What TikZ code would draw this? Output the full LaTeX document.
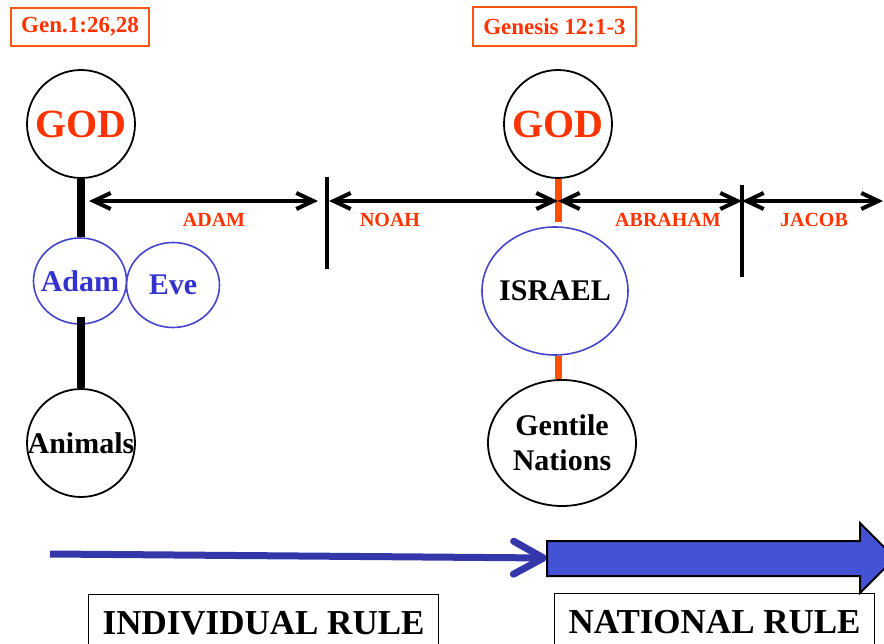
\documentclass[tikz,border=0pt]{standalone}
\usepackage{fontspec}
\setmainfont{Liberation Serif}
\usetikzlibrary{arrows.meta,shapes.geometric}

\definecolor{godred}{RGB}{255,51,0}
\definecolor{versered}{RGB}{255,85,17}
\definecolor{linered}{RGB}{255,80,0}
\definecolor{manblue}{RGB}{68,68,204}
\definecolor{nameblue}{RGB}{51,51,204}
\definecolor{lineblue}{RGB}{51,55,170}
\definecolor{blockblue}{RGB}{68,82,214}

\newcommand{\pxfont}[2]{\fontsize{#1pt}{#2pt}\selectfont}

\begin{document}
\begin{tikzpicture}[x=1pt, y=-1pt,
  verse/.style={draw=versered, line width=2pt, text=godred, inner sep=0pt,
    font=\pxfont{23}{27}\bfseries},
  divine/.style={circle, draw, line width=1.8pt, minimum size=108pt, inner sep=0pt,
    text=godred, font=\pxfont{40}{48}\bfseries},
  person/.style={ellipse, draw=manblue, line width=1.6pt, inner sep=0pt,
    text=nameblue, font=\pxfont{30}{35}\bfseries},
  people/.style={ellipse, draw, line width=1.8pt, inner sep=0pt, align=center,
    font=\pxfont{30}{35}\bfseries},
  era/.style={text=godred, inner sep=0pt, font=\pxfont{20}{24}\bfseries},
  epoch/.style={{Straight Barb[length=17pt,width=16pt]}-{Straight Barb[length=17pt,width=16pt]},
    line width=4pt},
  tick/.style={line width=3.5pt},
  rulebox/.style={draw, line width=1.2pt, anchor=north west, inner xsep=0pt, inner ysep=15pt,
    text height=25pt, text depth=40pt, font=\pxfont{35}{42}\bfseries}
]
\useasboundingbox (0,0) rectangle (884,644);
\clip (0,0) rectangle (884,644);

% verses
\node[verse, minimum width=138pt, minimum height=38pt] (gen1) at (80,27) {Gen.1:26,28};
\node[verse, minimum width=163pt, minimum height=39pt] (gen12) at (554.5,26.5) {Genesis 12:1-3};

% creation order
\node[divine] (god1) at (81,124) {\raisebox{-2pt}{GOD}};
\node[person, minimum width=93pt, minimum height=86pt] (adam) at (80,281) {\makebox[0pt]{\raisebox{-3pt}{Adam}}};
\node[person, minimum width=93pt, minimum height=85pt] (eve) at (173,285) {\raisebox{-3pt}{Eve}};
\node[people, minimum width=108pt, minimum height=108pt] (animals) at (81,443) {\makebox[0pt]{\raisebox{-2pt}{Animals}}};

% national order
\node[divine] (god2) at (558,124) {\raisebox{-2pt}{GOD}};
\node[people, draw=manblue, line width=1.6pt, minimum width=146pt, minimum height=128pt] (israel) at (555,291) {\makebox[0pt]{ISRAEL}};
\node[people, minimum width=148pt, minimum height=126pt] (gentile) at (562,443) {Gentile\\Nations};

\draw[line width=7.5pt] (god1.south) -- (god1.south |- adam.north);
\draw[line width=7.5pt] ([yshift=8pt]animals.north |- adam.south) -- (animals.north);
\draw[linered, line width=7pt] (god2.south) -- ([yshift=4pt]god2.south |- israel.north);
\draw[linered, line width=7pt] (god2.south |- israel.south) -- (god2.south |- gentile.north);

% time line
\coordinate (eraStart) at (89,201);
\coordinate (tickA) at (327,201);
\coordinate (cross) at (558,201);
\coordinate (tickB) at (742,201);
\coordinate (eraEnd) at (883,201);
\draw[tick] (327,177) -- (327,269);
\draw[tick] (742,185) -- (742,277);
\draw[epoch] (eraStart) -- ([xshift=-9pt]tickA);
\draw[epoch] ([xshift=2pt]tickA) -- (cross);
\draw[epoch] (cross) -- (tickB);
\draw[epoch] (tickB) -- (eraEnd);
\node[era] (adamEra) at (214,219.5) {ADAM};
\node[era] (noahEra) at (390,219.5) {NOAH};
\node[era] (abrahamEra) at (668,219.5) {ABRAHAM};
\node[era] (jacobEra) at (814,219.5) {JACOB};

% rule
\coordinate (indStart) at (50,554);
\coordinate (natTail) at (547,558);
\draw[lineblue, line width=7pt, -{Straight Barb[length=30pt,width=33pt,round]}] (indStart) -- (natTail);
\draw[fill=blockblue, line width=2pt] (natTail |- 0,541) -- (860,541) -- (860,523) -- (895,558)
  -- (860,593) -- (860,576) -- (natTail |- 0,576) -- cycle;
\node[rulebox, minimum width=350pt] (indiv) at (88,594) {INDIVIDUAL RULE};
\node[rulebox, minimum width=320pt] (nation) at (554,593) {NATIONAL RULE};
\end{tikzpicture}
\end{document}
